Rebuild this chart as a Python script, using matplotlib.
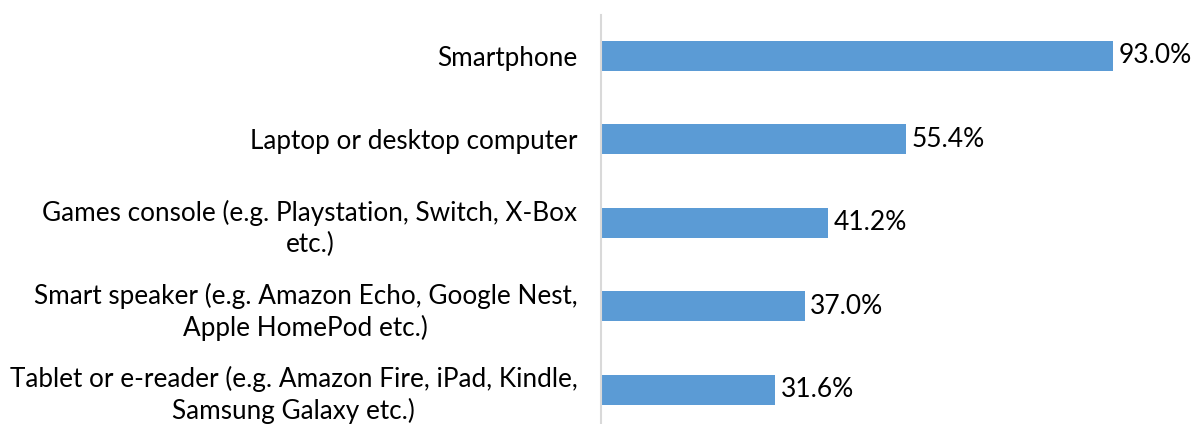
import matplotlib
matplotlib.use("Agg")
import matplotlib.pyplot as plt

categories = [
    "Smartphone",
    "Laptop or desktop computer",
    "Games console (e.g. Playstation, Switch, X-Box\netc.)",
    "Smart speaker (e.g. Amazon Echo, Google Nest,\nApple HomePod etc.)",
    "Tablet or e-reader (e.g. Amazon Fire, iPad, Kindle,\nSamsung Galaxy etc.)",
]
values = [93.0, 55.4, 41.2, 37.0, 31.6]

plt.rcParams["font.family"] = ["Lato", "DejaVu Sans"]

W, H = 1197, 424
fig = plt.figure(figsize=(W / 100, H / 100), dpi=100)
ax = fig.add_axes([601 / W, 0, 550.5 / W, 1 - 15 / H])

ypos = list(range(len(categories)))
ax.barh(ypos, values, height=0.36, color="#5B9BD5")
ax.set_xlim(0, 100)
ax.set_ylim(4.41, -0.49)

for y, v in zip(ypos, values):
    ax.text(v + 1.0, y, f"{v:.1f}%", va="center", ha="left", fontsize=19, color="#000000")

ax.set_yticks(ypos)
ax.set_yticklabels(categories, fontsize=18.8, multialignment="center", linespacing=1.28)
ax.tick_params(axis="y", length=0, pad=17)
ax.set_xticks([])

for side in ["top", "right", "bottom"]:
    ax.spines[side].set_visible(False)
ax.spines["left"].set_color("#D9D9D9")
ax.spines["left"].set_linewidth(1.5)

fig.savefig("out.png", dpi=100)
plt.close(fig)
